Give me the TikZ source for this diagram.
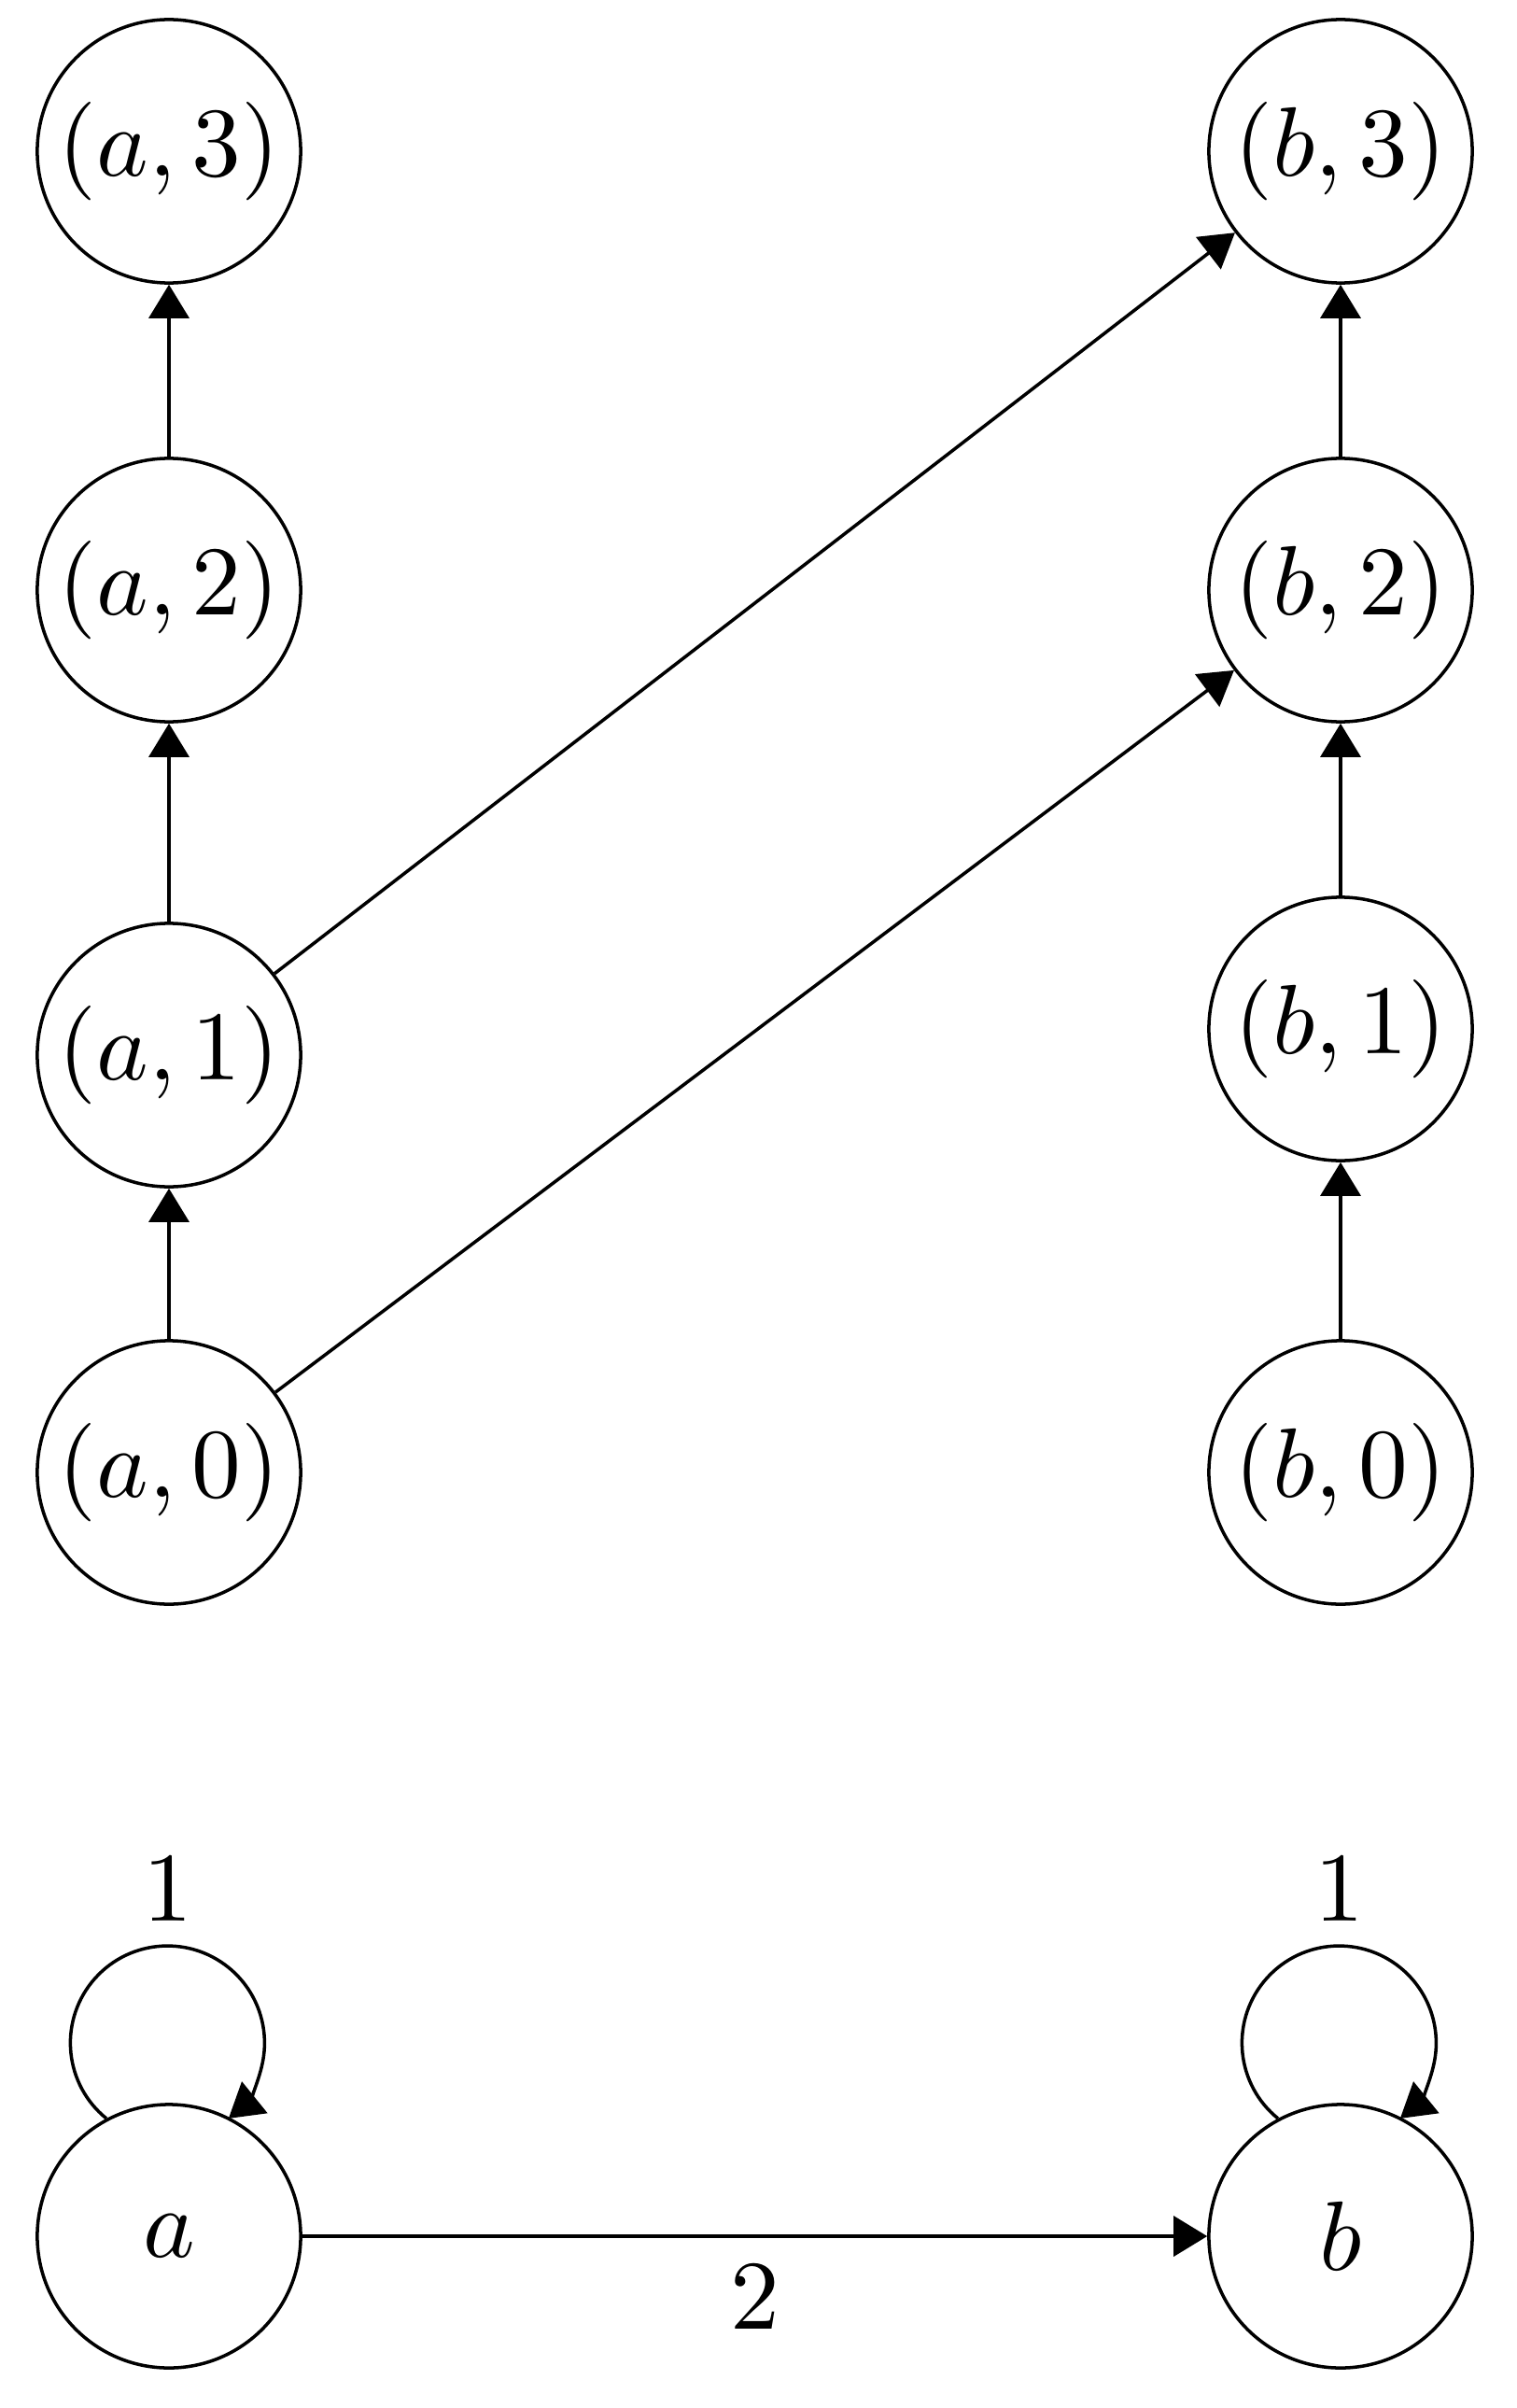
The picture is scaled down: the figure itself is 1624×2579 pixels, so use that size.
\documentclass[tikz,border=0pt]{standalone}
\usepackage{graphicx}
\usetikzlibrary{arrows.meta}
\newcommand{\myscl}[1]{\scalebox{3}{#1}}
\begin{document}
\begin{tikzpicture}[x=0.01cm,y=0.01cm,
  st/.style={circle,draw,line width=1pt,minimum size=2.82cm,inner sep=0pt},
  edge/.style={line width=1pt,-{Triangle[length=0.36cm,width=0.43cm]}},
  lbl/.style={}]
\useasboundingbox (0,0) rectangle (1624,-2579);
\node[st] (a3) at (181,-162) {\myscl{$(a,3)$}};
\node[st] (a2) at (181,-632) {\myscl{$(a,2)$}};
\node[st] (a1) at (181,-1130) {\myscl{$(a,1)$}};
\node[st] (a0) at (181,-1577) {\myscl{$(a,0)$}};
\node[st] (b3) at (1436,-162) {\myscl{$(b,3)$}};
\node[st] (b2) at (1436,-632) {\myscl{$(b,2)$}};
\node[st] (b1) at (1436,-1102) {\myscl{$(b,1)$}};
\node[st] (b0) at (1436,-1577) {\myscl{$(b,0)$}};
\node[st] (a) at (181,-2395) {\myscl{$a$}};
\node[st] (b) at (1436,-2395) {\myscl{$b$}};
\draw[edge] (a0) -- (a1);
\draw[edge] (a1) -- (a2);
\draw[edge] (a2) -- (a3);
\draw[edge] (b0) -- (b1);
\draw[edge] (b1) -- (b2);
\draw[edge] (b2) -- (b3);
\draw[edge] (a1) -- (b3);
\draw[edge] (a0) -- (b2);
\draw[edge] (a.118) arc[start angle=231,end angle=-51,radius=104] node[lbl,pos=0.5,above,inner sep=7pt] {\myscl{$1$}};
\draw[edge] (b.118) arc[start angle=231,end angle=-51,radius=104] node[lbl,pos=0.5,above,inner sep=7pt] {\myscl{$1$}};
\draw[edge] (a) -- node[lbl,below,inner sep=8.5pt] {\myscl{$2$}} (b);
\end{tikzpicture}
\end{document}
